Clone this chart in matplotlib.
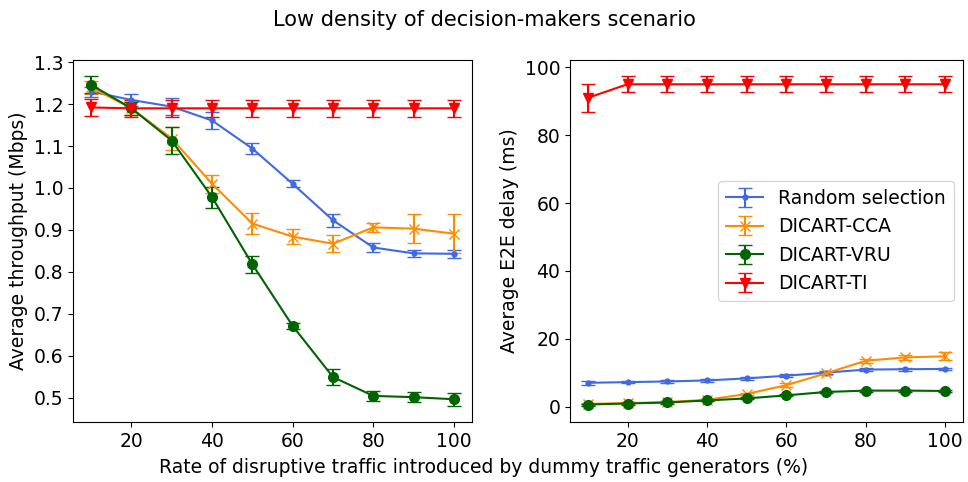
import matplotlib.pyplot as plt
import numpy as np

rate = [10, 20, 30, 40, 50, 60, 70, 80, 90, 100]
labels = ['Random selection', 'DICART-CCA', 'DICART-VRU', 'DICART-TI']

# throughput (Mbps)
thr_random = [1.230, 1.210, 1.194, 1.161, 1.094, 1.010, 0.923, 0.858, 0.844, 0.843]
thr_random_err = [0.012, 0.015, 0.020, 0.020, 0.013, 0.008, 0.016, 0.010, 0.009, 0.010]
thr_cca = [1.240, 1.190, 1.118, 1.010, 0.915, 0.884, 0.867, 0.906, 0.903, 0.891]
thr_cca_err = [0.015, 0.015, 0.028, 0.022, 0.025, 0.018, 0.020, 0.010, 0.034, 0.047]
thr_vru = [1.246, 1.190, 1.113, 0.978, 0.818, 0.671, 0.549, 0.504, 0.501, 0.496]
thr_vru_err = [0.020, 0.015, 0.032, 0.025, 0.020, 0.007, 0.020, 0.011, 0.012, 0.015]
thr_ti = [1.192, 1.190, 1.190, 1.190, 1.190, 1.190, 1.190, 1.190, 1.190, 1.190]
thr_ti_err = [0.020, 0.020, 0.020, 0.020, 0.020, 0.020, 0.020, 0.020, 0.020, 0.020]

# E2E delay (ms)
del_random = [7.0, 7.2, 7.4, 7.7, 8.3, 9.1, 10.0, 10.9, 11.0, 11.1]
del_random_err = [0.5, 0.4, 0.4, 0.4, 0.4, 0.4, 0.4, 0.4, 0.4, 0.4]
del_cca = [0.8, 1.0, 1.3, 2.0, 3.7, 6.3, 9.8, 13.5, 14.5, 14.8]
del_cca_err = [0.3, 0.3, 0.3, 0.3, 0.4, 0.5, 0.5, 0.6, 0.7, 1.2]
del_vru = [0.6, 0.9, 1.2, 1.8, 2.4, 3.3, 4.3, 4.7, 4.7, 4.6]
del_vru_err = [0.3, 0.3, 0.3, 0.3, 0.3, 0.3, 0.3, 0.3, 0.3, 0.3]
del_ti = [91.0, 95.0, 95.0, 95.0, 95.0, 95.0, 95.0, 95.0, 95.0, 95.0]
del_ti_err = [4.1, 2.3, 2.3, 2.3, 2.3, 2.3, 2.3, 2.3, 2.3, 2.3]

colors = ['royalblue', 'darkorange', 'darkgreen', 'red']
markers = ['.', 'x', 'o', 'v']

fig = plt.figure(figsize=(9.68, 4.82), dpi=100)
ax1 = fig.add_axes([0.0754, 0.1245, 0.4122, 0.751])
ax2 = fig.add_axes([0.5888, 0.1245, 0.406, 0.751])

thr = [(thr_random, thr_random_err), (thr_cca, thr_cca_err),
       (thr_vru, thr_vru_err), (thr_ti, thr_ti_err)]
dly = [(del_random, del_random_err), (del_cca, del_cca_err),
       (del_vru, del_vru_err), (del_ti, del_ti_err)]

for i in range(4):
    ax1.errorbar(rate, thr[i][0], yerr=thr[i][1], color=colors[i], marker=markers[i],
                 ms=7, capsize=5, ecolor=colors[i], elinewidth=1.5, label=labels[i])
    ax2.errorbar(rate, dly[i][0], yerr=dly[i][1], color=colors[i], marker=markers[i],
                 ms=7, capsize=5, ecolor=colors[i], elinewidth=1.5, label=labels[i])

fs = 13.5
ax1.set_ylabel('Average throughput (Mbps)', fontsize=fs)
ax2.set_ylabel('Average E2E delay (ms)', fontsize=fs)
for ax in (ax1, ax2):
    ax.set_xticks([20, 40, 60, 80, 100])
    ax.tick_params(axis='both', labelsize=fs)
ax2.set_yticks([0, 20, 40, 60, 80, 100])

ax2.legend(loc='center right', fontsize=fs)
fig.text(0.5, 0.958, 'Low density of decision-makers scenario', ha='center', va='center', fontsize=15)
fig.text(0.5, 0.03, 'Rate of disruptive traffic introduced by dummy traffic generators (%)',
         ha='center', va='center', fontsize=fs)

plt.savefig('out.png', dpi=100)
